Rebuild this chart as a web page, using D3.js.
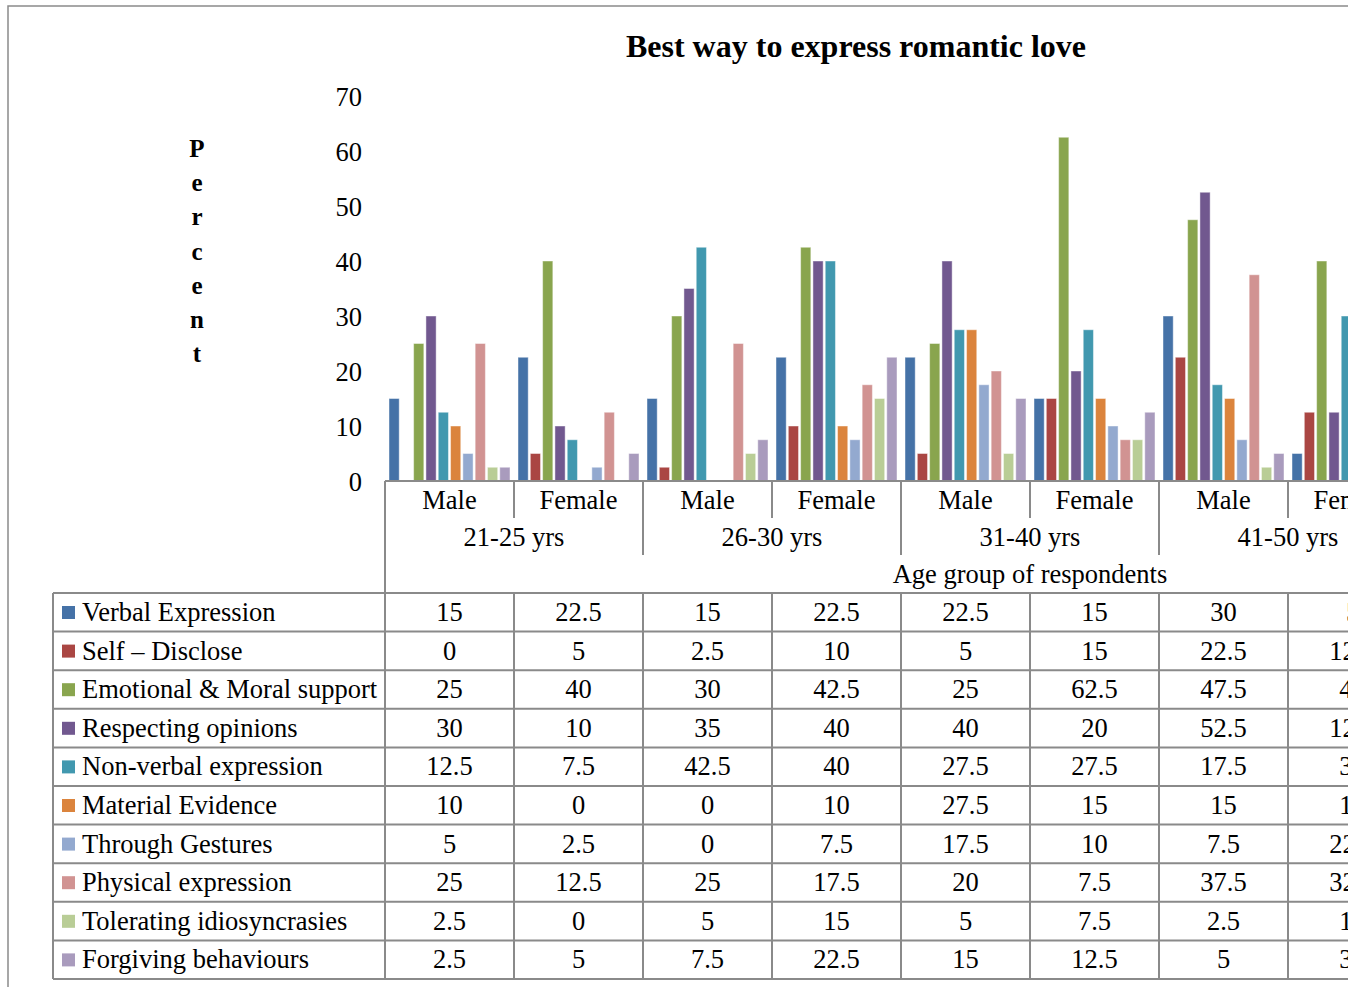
<!DOCTYPE html>
<html>
<head>
<meta charset="utf-8">
<script src="https://cdn.jsdelivr.net/npm/d3@7"></script>
<style>
  html, body { margin: 0; padding: 0; background: #fff; overflow: hidden; }
  svg { display: block; font-family: "Liberation Serif", "Times New Roman", serif; }
</style>
</head>
<body>
<svg id="chart" width="1353" height="987"></svg>
<script>
// Age groups and genders (two-level category axis)
const ageGroups = ["21-25 yrs", "26-30 yrs", "31-40 yrs", "41-50 yrs"];
const genders = ["Male", "Female"];

// Series (ways of expressing romantic love)
const seriesNames = [
  "Verbal Expression",
  "Self \u2013 Disclose",
  "Emotional & Moral support",
  "Respecting opinions",
  "Non-verbal expression",
  "Material Evidence",
  "Through Gestures",
  "Physical expression",
  "Tolerating idiosyncrasies",
  "Forgiving behaviours"
];
const seriesColors = [
  "#4572A7", "#AA4643", "#89A54E", "#71588F", "#4198AF",
  "#DB843D", "#93A9CF", "#D19392", "#B9CD96", "#A99BBD"
];

// Percent values, one per column: 21-25 M, F, 26-30 M, F, 31-40 M, F, 41-50 M, F
const verbalExpression    = [15, 22.5, 15, 22.5, 22.5, 15, 30, 5];
const selfDisclose        = [0, 5, 2.5, 10, 5, 15, 22.5, 12.5];
const emotionalMoral      = [25, 40, 30, 42.5, 25, 62.5, 47.5, 40];
const respectingOpinions  = [30, 10, 35, 40, 40, 20, 52.5, 12.5];
const nonVerbal           = [12.5, 7.5, 42.5, 40, 27.5, 27.5, 17.5, 30];
const materialEvidence    = [10, 0, 0, 10, 27.5, 15, 15, 10];
const throughGestures     = [5, 2.5, 0, 7.5, 17.5, 10, 7.5, 22.5];
const physicalExpression  = [25, 12.5, 25, 17.5, 20, 7.5, 37.5, 32.5];
const toleratingIdio      = [2.5, 0, 5, 15, 5, 7.5, 2.5, 10];
const forgivingBehaviours = [2.5, 5, 7.5, 22.5, 15, 12.5, 5, 30];

const yTicks = [0, 10, 20, 30, 40, 50, 60, 70];

const seriesValues = [
  verbalExpression, selfDisclose, emotionalMoral, respectingOpinions, nonVerbal,
  materialEvidence, throughGestures, physicalExpression, toleratingIdio, forgivingBehaviours
];

// Columns built from the two category levels
const columns = [];
ageGroups.forEach(a => genders.forEach(g => columns.push({ key: a + "|" + g, age: a, gender: g })));

const svg0 = d3.select("#chart");
const lineColor = "#8a8a8a";
const fontSize = 26.5;

// Visible area of the chart sheet
svg0.append("defs").append("clipPath").attr("id", "sheet")
  .append("rect").attr("x", 0).attr("y", 0).attr("width", 1348).attr("height", 987);
const svg = svg0.append("g").attr("clip-path", "url(#sheet)");

// Layout
const plotLeft = 385, colW = 129;
const plotRight = plotLeft + colW * columns.length;
const yTop = 96, yBase = 481;
const tableTop = 593, rowH = 38.6;
const tableBottom = tableTop + rowH * seriesNames.length;
const tableLeft = 53;

// Outer frame
svg.append("rect")
  .attr("x", 8).attr("y", 6).attr("width", 1800).attr("height", 1200)
  .attr("fill", "none").attr("stroke", lineColor).attr("stroke-width", 1.5);

// Scales
const x = d3.scaleBand().domain(columns.map(c => c.key)).range([plotLeft, plotRight]).padding(0);
const xInner = d3.scaleBand().domain(seriesNames).range([4, colW - 4]).paddingInner(0.17);
const y = d3.scaleLinear().domain([0, 70]).range([yBase, yTop]);

// Title
svg.append("text")
  .attr("x", 856).attr("y", 57)
  .attr("text-anchor", "middle")
  .attr("font-size", 32).attr("font-weight", "bold")
  .text("Best way to express romantic love");

// Y-axis title, letters stacked vertically
const yTitle = "Percent".split("");
svg.append("g").selectAll("text").data(yTitle).join("text")
  .attr("x", 197).attr("y", (d, i) => 157 + i * 34.2)
  .attr("text-anchor", "middle")
  .attr("font-size", 25).attr("font-weight", "bold")
  .text(d => d);

// Y axis labels
const yAxis = svg.append("g")
  .attr("transform", `translate(${plotLeft - 23},0)`)
  .call(d3.axisLeft(y).tickValues(yTicks).tickSize(0).tickPadding(0));
yAxis.select(".domain").remove();
yAxis.selectAll("text")
  .attr("font-family", "Liberation Serif, serif")
  .attr("font-size", fontSize).attr("fill", "#000")
  .attr("dy", "0.34em");

// Bars
const barData = [];
columns.forEach((c, ci) => {
  seriesNames.forEach((s, si) => {
    barData.push({ col: c.key, series: s, value: seriesValues[si][ci], color: seriesColors[si] });
  });
});
svg.append("g").selectAll("rect").data(barData.filter(d => d.value > 0)).join("rect")
  .attr("x", d => x(d.col) + xInner(d.series))
  .attr("y", d => y(d.value))
  .attr("width", xInner.bandwidth())
  .attr("height", d => yBase - y(d.value))
  .attr("fill", d => d.color)
  .attr("stroke", "#ffffff").attr("stroke-opacity", 0.45).attr("stroke-width", 1);

// Category axis line
const grid = svg.append("g").attr("stroke", lineColor).attr("stroke-width", 2).attr("fill", "none");
grid.append("line").attr("x1", plotLeft).attr("x2", 1800).attr("y1", yBase).attr("y2", yBase);

// Gender labels
const xAxis = svg.append("g")
  .attr("transform", `translate(0,${yBase})`)
  .call(d3.axisBottom(x).tickSize(0).tickPadding(0).tickFormat(k => k.split("|")[1]));
xAxis.select(".domain").remove();
xAxis.selectAll("text")
  .attr("font-family", "Liberation Serif, serif")
  .attr("font-size", fontSize).attr("fill", "#000")
  .attr("dy", null).attr("y", 28);

// Age-group labels
svg.append("g").selectAll("text").data(ageGroups).join("text")
  .attr("x", a => x(a + "|Male") + colW)
  .attr("y", 546)
  .attr("text-anchor", "middle").attr("font-size", fontSize)
  .text(a => a);

// Axis title
svg.append("text")
  .attr("x", x(ageGroups[2] + "|Female")).attr("y", 583)
  .attr("text-anchor", "middle").attr("font-size", fontSize)
  .text("Age group of respondents");

// Separators in the category axis area
columns.forEach(c => {
  const xr = x(c.key) + colW;
  const isGroupEnd = c.gender === "Female";
  grid.append("line").attr("x1", xr).attr("x2", xr)
    .attr("y1", yBase).attr("y2", isGroupEnd ? 555 : 518);
});
grid.append("line").attr("x1", plotLeft).attr("x2", plotLeft).attr("y1", yBase).attr("y2", tableBottom);

// Data table
seriesNames.forEach((s, si) => {
  grid.append("line").attr("x1", tableLeft).attr("x2", 1800)
    .attr("y1", tableTop + si * rowH).attr("y2", tableTop + si * rowH);
});
grid.append("line").attr("x1", tableLeft).attr("x2", 1800).attr("y1", tableBottom).attr("y2", tableBottom);
grid.append("line").attr("x1", tableLeft).attr("x2", tableLeft).attr("y1", tableTop).attr("y2", tableBottom);
columns.forEach(c => {
  const xr = x(c.key) + colW;
  grid.append("line").attr("x1", xr).attr("x2", xr).attr("y1", tableTop).attr("y2", tableBottom);
});

const rows = svg.append("g").selectAll("g").data(seriesNames).join("g")
  .attr("transform", (d, i) => `translate(0,${tableTop + i * rowH})`);
rows.append("rect")
  .attr("x", 62).attr("y", 13).attr("width", 13).attr("height", 13)
  .attr("fill", (d, i) => seriesColors[i]);
rows.append("text")
  .attr("x", 82).attr("y", 28).attr("font-size", fontSize)
  .text(d => d);
rows.each(function (s, si) {
  d3.select(this).selectAll("text.val").data(seriesValues[si]).join("text")
    .attr("class", "val")
    .attr("x", (v, ci) => x(columns[ci].key) + colW / 2)
    .attr("y", 28)
    .attr("text-anchor", "middle").attr("font-size", fontSize)
    .text(v => String(v));
});
</script>
</body>
</html>
